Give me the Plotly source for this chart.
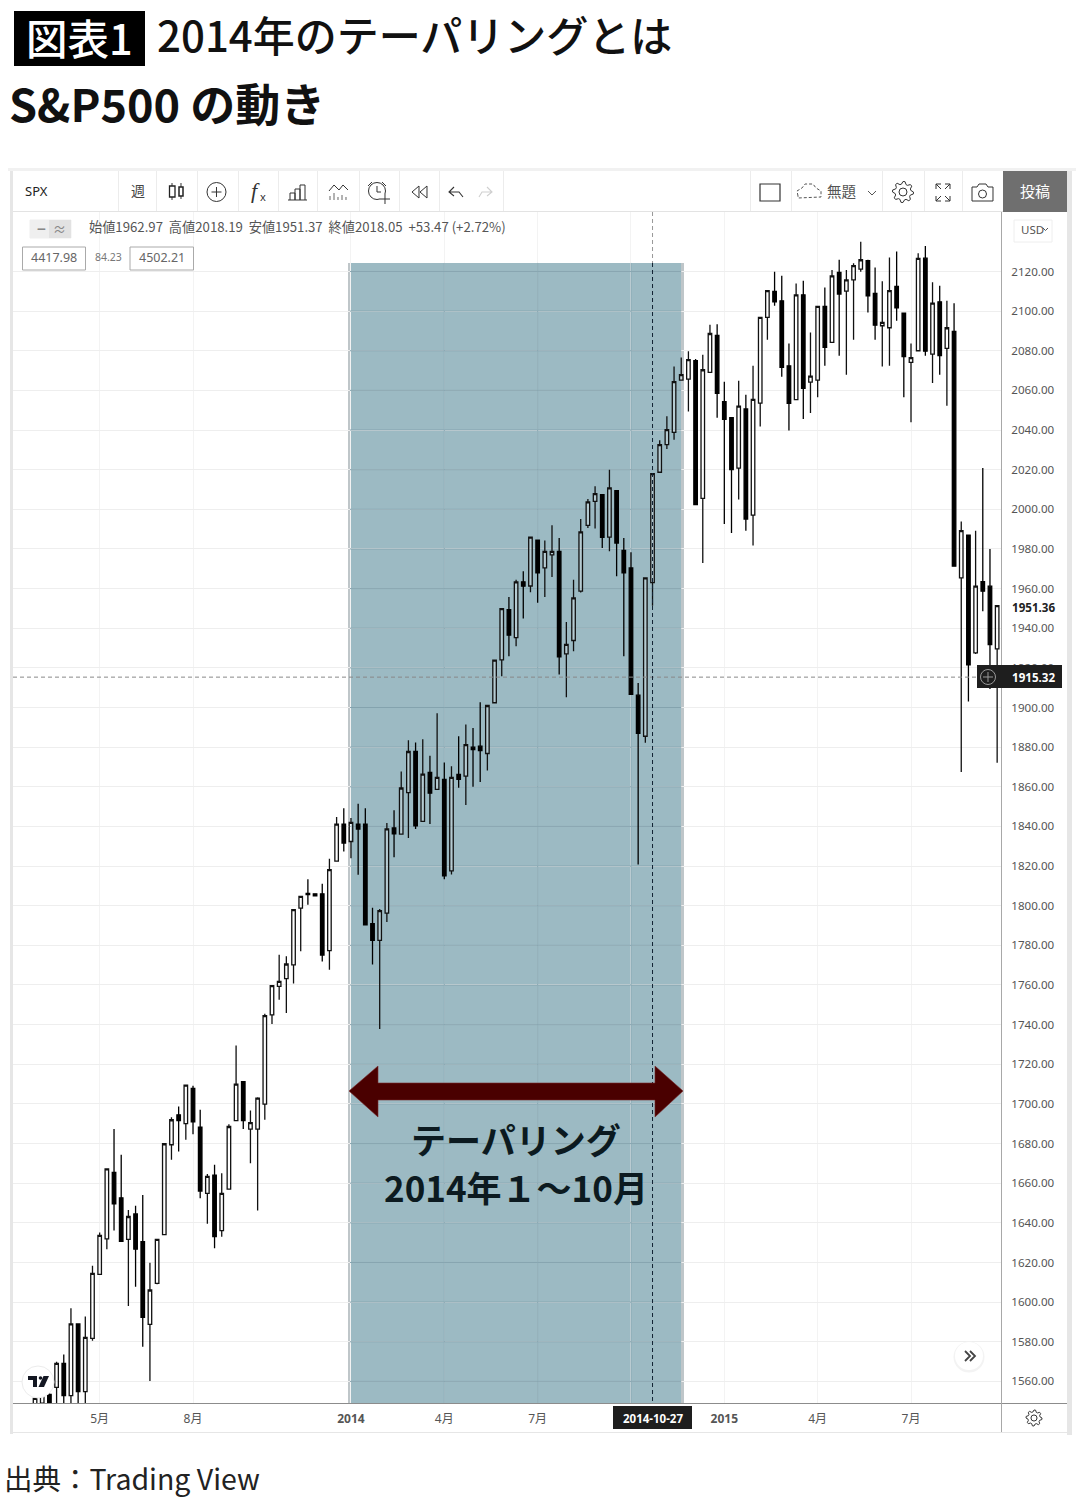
import re
import math
import pandas as pd
import plotly.graph_objects as go

W, H = 1080, 1500
CJK = "Noto Sans CJK JP"
LATIN = "Noto Sans, Noto Sans CJK JP"

# weekly SPX candles
opens = [
    1546, 1549, 1553.5, 1557, 1569.1, 1552.8, 1589, 1554.8, 1581.7, 1614,
    1631.9, 1665.4, 1652.6, 1631.7, 1644.5, 1630.5, 1588.8, 1609.5, 1634.1, 1679.4,
    1694.5, 1690.1, 1707.8, 1688.3, 1654.9, 1664, 1636.1, 1657, 1691.6, 1711.2,
    1687.3, 1687.3, 1699.9, 1744.9, 1759.3, 1763.2, 1770.1, 1798.8, 1806.2, 1806,
    1806, 1777.3, 1822.5, 1841.2, 1832.4, 1841.2, 1841.2, 1790.9, 1782.5, 1796.3,
    1839.2, 1836.1, 1857.1, 1877.8, 1842.5, 1867.2, 1858.7, 1863.7, 1817.6, 1866.2,
    1865.4, 1880, 1880.5, 1876.8, 1902.4, 1924, 1949.4, 1935.3, 1963.4, 1961.3,
    1984.5, 1970.4, 1977, 1978.8, 1927.1, 1933.8, 1958.7, 1991.9, 2004, 2007.4,
    1986, 2009.4, 1979.3, 1970.4, 1906.2, 1885.5, 1962.97, 2018.7, 2032.6, 2038.8,
    2065.2, 2065.7, 2075, 2005.5, 2069.1, 2087.7, 2054.3, 2046.2, 2020.8, 2050.6,
    1997.1, 2053.6, 2096.8, 2109.9, 2105.2, 2072.4, 2055.3, 2108.2, 2064.2, 2065.2,
    2102.4, 2084.2, 2119.5, 2110.1, 2115.8, 2121.2, 2125.4, 2108.9, 2092.6, 2091.6,
    2112.4, 2099, 2074.1, 2080, 2126.7, 2078.3, 2104.7, 2081.2, 2089.7, 1965.4,
    1987, 1927.6, 1963.5, 1961.2, 1929.6,
]
highs = [
    1552, 1556, 1554, 1569.9, 1573.6, 1596.9, 1589, 1592.7, 1618.4, 1635.1,
    1667.5, 1687.3, 1674.3, 1646.5, 1648.6, 1654.1, 1619.9, 1632, 1680, 1693.3,
    1698.7, 1709.5, 1709.2, 1697, 1664.7, 1669.3, 1665, 1689.8, 1729.5, 1711.2,
    1696.7, 1703.4, 1745.5, 1759.9, 1775.3, 1774.5, 1798.2, 1804.9, 1813.4, 1806.2,
    1811.1, 1823.7, 1844.7, 1849.2, 1844.2, 1851.4, 1849.2, 1799, 1798.3, 1841.7,
    1848.1, 1867.7, 1883.5, 1882.4, 1884, 1875.6, 1897.1, 1872.3, 1870.4, 1885.5,
    1891.4, 1889.7, 1902.7, 1901, 1924.2, 1950, 1955.8, 1964.5, 1968.7, 1986,
    1984.6, 1984.2, 1991.9, 1985.5, 1943.2, 1964.5, 1995.1, 2005.2, 2011.6, 2007.6,
    2020, 2009.6, 1985.5, 1978.3, 1912.4, 1965.5, 2018.19, 2034.8, 2046.9, 2072.1,
    2076.6, 2079.7, 2075.8, 2078, 2093.1, 2093.4, 2064.4, 2046.4, 2064.9, 2057.8,
    2072.4, 2097, 2110.5, 2119.8, 2117.8, 2083.7, 2113.9, 2115.3, 2089.2, 2102.6,
    2111.9, 2120.8, 2125.9, 2120.8, 2124.2, 2135, 2125.9, 2122, 2115, 2127.1,
    2130.1, 2099.2, 2083.7, 2129.2, 2132.9, 2114.5, 2112.8, 2105.2, 2104, 1993.8,
    1987.2, 1989.2, 2020.8, 1980, 1951.5,
]
lows = [
    1540, 1542, 1540, 1545, 1545, 1543, 1545, 1545, 1580.5, 1614,
    1626.7, 1636.1, 1630.7, 1598, 1607.8, 1577.5, 1560.2, 1609, 1634, 1671.8,
    1676, 1681.9, 1684.7, 1652.4, 1639.5, 1627.2, 1633, 1657, 1691.6, 1687.3,
    1670.1, 1646.2, 1692, 1740.3, 1752.6, 1745.9, 1760.7, 1777, 1800.5, 1804.8,
    1771.9, 1767.7, 1822.4, 1827.4, 1824, 1815.6, 1790.4, 1770.3, 1737.8, 1791.8,
    1824.4, 1836, 1834.1, 1838.7, 1842.4, 1841.2, 1858.6, 1813.4, 1815.8, 1859.5,
    1850.8, 1860, 1862.4, 1868.2, 1902, 1915.8, 1925.9, 1930.9, 1944.9, 1958.2,
    1952.8, 1955.8, 1965.9, 1916.6, 1905.2, 1928.4, 1958, 1990.6, 1990.3, 1980.5,
    1978.8, 1966.2, 1925.9, 1906.4, 1820.8, 1882.2, 1951.37, 2018.6, 2030.4, 2035.1,
    2064.9, 2049.4, 2002, 1972.9, 2069, 2046.2, 1992.6, 1988.1, 2004.9, 1989.2,
    1981.7, 2041.8, 2085.5, 2102.7, 2066.9, 2039.7, 2055, 2045.5, 2048.6, 2056.5,
    2072.4, 2084, 2077.5, 2067.9, 2085.5, 2119.8, 2099.3, 2085.5, 2072.1, 2072.4,
    2095.1, 2056.5, 2043.9, 2080, 2077.5, 2063.7, 2067.9, 2052.3, 1971, 1867.4,
    1903, 1927, 1948.6, 1909.4, 1872.1,
]
closes = [
    1551.4, 1553.5, 1545, 1569.1, 1552.8, 1589, 1554.8, 1582.2, 1614.5, 1633.7,
    1667.2, 1649.6, 1630.7, 1643.2, 1626.7, 1592.3, 1606.1, 1631.7, 1679.9, 1692,
    1691.6, 1709.5, 1691, 1656, 1663.4, 1633.1, 1654.9, 1688.6, 1710, 1691.6,
    1690.6, 1702.9, 1744.5, 1759.7, 1761.8, 1770.6, 1798, 1804.7, 1805.6, 1805,
    1775.1, 1818.2, 1841.2, 1831.6, 1842, 1838.7, 1790.4, 1782.5, 1797.5, 1838.8,
    1836.3, 1859.4, 1877.8, 1840.3, 1866.4, 1856.8, 1864.7, 1815.1, 1864.7, 1863.7,
    1881.3, 1878.8, 1878.3, 1901, 1923.9, 1949.9, 1936.5, 1963.4, 1961.2, 1986,
    1967.9, 1978.8, 1978.8, 1925.5, 1931.9, 1955.3, 1988.6, 2003.7, 2007.9, 1985.9,
    2010.8, 1983, 1967.9, 1906.6, 1886.9, 1965.4, 2018.05, 2032.6, 2040.2, 2064.4,
    2067.9, 2075.5, 2002.4, 2070.4, 2088.7, 2058.5, 2045.4, 2020, 2052.1, 1995.1,
    2055.5, 2096.8, 2110.3, 2104.7, 2071.6, 2053.4, 2108.2, 2061, 2067.2, 2102.4,
    2081.7, 2117.8, 2108.6, 2115.8, 2122.9, 2125.9, 2107.7, 2092.9, 2094.3, 2110.3,
    2101.7, 2077, 2076.5, 2126.6, 2079.8, 2104, 2077.5, 2091.6, 1971.3, 1989.2,
    1921.5, 1961.2, 1958.7, 1931.8, 1951.36,
]
week_dates = pd.date_range("2013-03-04", periods=len(opens), freq="7D")

x_ticks = ["2013-05-06", "2013-08-05", "2014-01-06", "2014-04-07", "2014-07-07",
           "2014-10-06", "2015-01-05", "2015-04-06", "2015-07-06"]
x_labels = ["5月", "8月", "<b>2014</b>", "4月", "7月", "", "<b>2015</b>", "4月", "7月"]
y_ticks = [1560, 1580, 1600, 1620, 1640, 1660, 1680, 1700, 1720, 1740, 1760, 1780, 1800, 1820, 1840,
           1860, 1880, 1900, 1920, 1940, 1960, 1980, 2000, 2020, 2040, 2060, 2080, 2100, 2120]
band_x_ticks = ["2014-04-07", "2014-07-07", "2014-10-06"]
band_start = "2014-01-05"
band_end = "2014-11-24"
band_top = 2124.3
y_bottom = 1549.1
y_top = 2150
cross_date = "2014-10-27"
cross_price = 1915.32
last_price = 1951.36


def px(x):
    return x / W


def py(y):
    return 1 - y / H


def conv(d):
    # pixel path -> paper path
    out = []
    is_x = True
    for tok in re.findall(r"[MLZ]|-?[\d.]+", d):
        if tok in "MLZ":
            out.append(tok)
            is_x = True
        elif is_x:
            out.append(f"{px(float(tok)):.5f}")
            is_x = False
        else:
            out.append(f"{py(float(tok)):.5f}")
            is_x = True
    return " ".join(out)


shapes = []
notes = []


def rect(x0, y0, x1, y1, fill=None, line=None, lw=1, layer="above"):
    shapes.append(dict(type="rect", xref="paper", yref="paper", x0=px(x0), x1=px(x1), y0=py(y0), y1=py(y1),
                       fillcolor=fill or "rgba(0,0,0,0)", line=dict(color=line or "rgba(0,0,0,0)", width=lw if line else 0),
                       layer=layer))


def circle(cx, cy, r, fill=None, line="#333", lw=1):
    shapes.append(dict(type="circle", xref="paper", yref="paper", x0=px(cx - r), x1=px(cx + r), y0=py(cy - r), y1=py(cy + r),
                       fillcolor=fill or "rgba(0,0,0,0)", line=dict(color=line or "rgba(0,0,0,0)", width=lw if line else 0),
                       layer="above"))


def path(d, line="#333", lw=1, fill=None, dash="solid", layer="above"):
    shapes.append(dict(type="path", xref="paper", yref="paper", path=conv(d),
                       fillcolor=fill or "rgba(0,0,0,0)", line=dict(color=line or "rgba(0,0,0,0)", width=lw if line else 0, dash=dash),
                       layer=layer))


def note(text, x, y, size, color="#555", anchor="left", weight=400, family=CJK):
    notes.append(dict(text=text, x=px(x), y=py(y), xref="paper", yref="paper", showarrow=False, xanchor=anchor,
                      yanchor="middle", borderpad=0, font=dict(size=size, color=color, family=family, weight=weight)))


def gear(cx, cy, r):
    pts = []
    for i in range(32):
        rr = r if i % 4 in (0, 1) else r * 0.76
        a = 2 * math.pi * i / 32
        pts.append(f"{cx + rr * math.cos(a):.2f} {cy + rr * math.sin(a):.2f}")
    path("M " + " L ".join(pts) + " Z", line="#333", lw=1)
    circle(cx, cy, r * 0.38)


# frame of the screenshot
rect(8, 168, 1076, 171, fill="#f1f1f1")
rect(10, 171, 13, 1434, fill="#e6e6e6")
rect(1067, 171, 1072, 1435, fill="#e6e6e6")
rect(13, 211, 1067, 212, fill="#e3e3e3")
rect(13, 1432, 1067, 1433, fill="#e6e6e6")
rect(13, 1403, 1067, 1404, fill="#8c8c8c")
rect(1001, 212, 1002, 1432, fill="#a8a8a8")
for sep in [118, 156, 197, 238, 278, 317, 359, 399, 439, 503, 750, 791, 882, 924, 962]:
    rect(sep, 171, sep + 1, 211, fill="#ececec")

# teal band for the tapering period, sits under the gridlines
rect(349, 263, 683, 1403, fill="#9cbac3", layer="below")
rect(348, 263, 351, 1403, fill="#bfc6c9", layer="below")
rect(681, 263, 684, 1403, fill="#bfc6c9", layer="below")

# gridlines come out darker where the band covers them
for tick in y_ticks:
    shapes.append(dict(type="line", xref="x", yref="y", x0=band_start, x1=band_end, y0=tick, y1=tick,
                       line=dict(color="#84a3ae", width=1), layer="between"))
for tick in band_x_ticks:
    shapes.append(dict(type="line", xref="x", yref="y", x0=tick, x1=tick, y0=y_bottom, y1=band_top,
                       line=dict(color="#88a8b3", width=1), layer="between"))

# crosshair
shapes.append(dict(type="line", xref="paper", yref="y", x0=px(13), x1=px(978), y0=cross_price, y1=cross_price,
                   line=dict(color="#888", width=1, dash="4px,3px"), layer="above"))
shapes.append(dict(type="line", xref="x", yref="paper", x0=cross_date, x1=cross_date, y0=py(212), y1=py(263),
                   line=dict(color="#999", width=1, dash="4px,3px"), layer="above"))
shapes.append(dict(type="line", xref="x", yref="paper", x0=cross_date, x1=cross_date, y0=py(263), y1=py(1403),
                   line=dict(color="#123", width=1, dash="4px,3px"), layer="above"))

# toolbar icons, left
note("SPX", 24, 191, 13, "#222", family=LATIN)
note("週", 130, 190, 14, "#444")
path("M 172 183 L 172 186 M 172 197 L 172 200 M 181 183 L 181 187 M 181 196 L 181 199")
rect(169.5, 186, 175, 197, line="#222", lw=1.3)
rect(179, 187, 183, 196, line="#222", lw=1.5)
circle(216.5, 192, 9.5)
path("M 216.5 187 L 216.5 197 M 211.5 192 L 221.5 192")
note("<i>f</i>", 250, 190, 22, "#333", family="Liberation Serif")
note("x", 259, 197, 11, "#333", family=LATIN)
path("M 288 200 L 307 200 M 290 200 L 290 193 L 295 193 L 295 200 M 295 200 L 295 189 L 300 189 L 300 200 M 300 200 L 300 185 L 305 185 L 305 200")
path("M 329 191 L 334 185 L 339 190 L 343 185 L 348 190", lw=1)
path("M 330 200 L 330 196 M 334 200 L 334 193 M 338 200 L 338 197 M 342 200 L 342 195 M 346 200 L 346 197", line="#666")
circle(377, 191, 8.5)
path("M 368 186 L 372 182 M 382 182 L 386 186 M 377 186 L 377 192 L 381 192")
rect(380, 194, 390, 204, fill="#ffffff")
path("M 385 194 L 385 204 M 380 199 L 390 199", line="#333")
path("M 419 186 L 412 192 L 419 198 Z M 427 186 L 420 192 L 427 198 Z", lw=1)
path("M 454 187 L 449 192 L 454 196 M 449 192 L 459 192 L 463 197", lw=1.1)
path("M 487 187 L 492 192 L 487 196 M 492 192 L 482 192 L 479 197", line="#cfcfcf", lw=1.1)

# toolbar icons, right
rect(760, 184, 780, 201, line="#333", lw=1.2)
path("M 798 196 L 797 191 L 802 188 L 805 184 L 813 184 L 816 188 L 821 191 L 821 197 L 798 198 Z", line="#555", lw=1, dash="3px,2px")
note("無題", 826, 190, 14.5, "#555")
path("M 868 191 L 872 195 L 876 191", line="#555")
gear(903, 192, 10.5)
path("M 936 184 L 941 184 M 936 184 L 936 189 M 936 184 L 941 189 M 950 184 L 945 184 M 950 184 L 950 189 M 950 184 L 945 189")
path("M 936 201 L 941 201 M 936 201 L 936 196 M 936 201 L 941 196 M 950 201 L 945 201 M 950 201 L 950 196 M 950 201 L 945 196")
path("M 972 187 L 977 187 L 979 184 L 986 184 L 988 187 L 993 187 L 993 201 L 972 201 Z", lw=1)
circle(982.5, 194, 4)
rect(1003, 171, 1067, 212, fill="#6f6f6f")
note("投稿", 1035, 190, 15, "#ffffff", anchor="center")

# ohlc legend row
rect(30, 220, 71, 238, fill="#efefef", line="#efefef")
rect(49, 220, 71, 238, fill="#e2e2e2")
note("−", 41, 228, 15, "#888", anchor="center", weight=700)
note("≈", 59, 228, 13, "#888", anchor="center")
note("始値1962.97  高値2018.19  安値1951.37  終値2018.05  +53.47 (+2.72%)", 88, 227, 13.2, "#555")
rect(22.5, 247, 85.5, 270, fill="#ffffff", line="#aaa")
rect(130, 247, 193.5, 270, fill="#ffffff", line="#aaa")
note("4417.98", 54, 258, 12.5, "#666", anchor="center", family=LATIN)
note("84.23", 108, 257, 10.5, "#777", anchor="center", family=LATIN)
note("4502.21", 162, 258, 12.5, "#666", anchor="center", family=LATIN)

# price scale extras
rect(1014, 220, 1052, 242, fill="#ffffff", line="#eeeeee")
note("USD", 1020, 229, 11.5, "#555", family=LATIN)
path("M 1043 228 L 1045.5 230.5 L 1048 228", line="#555")
note(f"<b>{last_price:.2f}</b>", 1011, 607, 11.6, "#222", family=LATIN)
rect(977, 665, 1062, 688, fill="#1e1e1e")
circle(988, 677, 7.5, line="#999")
path("M 988 672 L 988 682 M 983 677 L 993 677", line="#999")
note(f"<b>{cross_price:.2f}</b>", 1011, 677, 11.6, "#ffffff", family=LATIN)

# time scale extras
rect(613, 1406, 692, 1429, fill="#1e1e1e")
note("<b>2014-10-27</b>", 652.5, 1418, 11.5, "#ffffff", anchor="center", family=LATIN)
gear(1034, 1418, 8)

# round buttons
circle(969, 1357, 15.5, fill="#f3f3f3", line=None)
circle(969, 1356, 14, fill="#ffffff", line=None)
path("M 965 1351 L 970 1356 L 965 1361 M 970 1351 L 975 1356 L 970 1361", line="#444", lw=1.8)
circle(38, 1382, 16, fill="#ffffff", line="#ececec")
path("M 28 1376 L 37 1376 L 37 1387 L 33 1387 L 33 1380 L 28 1380 Z", line=None, fill="#131722")
circle(40.5, 1378, 1.8, fill="#131722", line=None)
path("M 43.5 1376 L 49 1376 L 44 1387 L 38.5 1387 Z", line=None, fill="#131722")

# dark red double arrow over the band
path("M 349 1091 L 378 1066 L 378 1083 L 655 1083 L 655 1066 L 683 1091 L 655 1117 L 655 1100 L 378 1100 L 378 1117 Z",
     line="#7a2a2a", lw=0.6, fill="#4a0000")
note("テーパリング", 516, 1138.5, 35, "#0c1a20", anchor="center", weight=700)
note("2014年１～10月", 515.5, 1186.5, 35, "#0c1a20", anchor="center", weight=700)

# headline and source
rect(14, 11, 145, 66, fill="#000000")
note("図表1", 79.5, 37, 41.5, "#ffffff", anchor="center", weight=500)
note("2014年のテーパリングとは", 156, 33, 42, "#111111", weight=500)
note("S&P500 の動き", 8, 103, 45, "#111111", weight=700)
note("出典：Trading View", 3, 1477, 28.5, "#222222")

fig = go.Figure(
    go.Candlestick(
        x=week_dates,
        open=opens,
        high=highs,
        low=lows,
        close=closes,
        increasing=dict(line=dict(color="#111111", width=1.3), fillcolor="rgba(255,255,255,0.25)"),
        decreasing=dict(line=dict(color="#000000", width=1.3), fillcolor="#000000"),
        whiskerwidth=0,
        showlegend=False,
    )
)

fig.update_layout(
    width=W,
    height=H,
    margin=dict(l=0, r=0, t=0, b=0),
    paper_bgcolor="#ffffff",
    plot_bgcolor="rgba(0,0,0,0)",
    showlegend=False,
    boxgap=0.3,
    shapes=shapes,
    annotations=notes,
    font=dict(family=LATIN, color="#555"),
)
fig.update_xaxes(
    domain=[px(13), px(1001)],
    range=["2013-02-10 12:00", "2015-10-01 18:00"],
    rangeslider_visible=False,
    tickmode="array",
    tickvals=x_ticks,
    ticktext=x_labels,
    tickfont=dict(size=12, color="#555", family=LATIN),
    ticks="outside",
    ticklen=5,
    tickcolor="rgba(0,0,0,0)",
    gridcolor="#f3f3f3",
    showline=False,
    zeroline=False,
)
fig.update_yaxes(
    domain=[py(1403), py(212)],
    range=[y_bottom, y_top],
    side="right",
    tickmode="array",
    tickvals=y_ticks,
    tickformat=".2f",
    tickfont=dict(size=11.6, color="#555", family=LATIN),
    ticks="outside",
    ticklen=7,
    tickcolor="rgba(0,0,0,0)",
    gridcolor="#eeeeee",
    showline=False,
    zeroline=False,
)

fig.write_html("out.html", config={"displayModeBar": False}, post_script="document.body.style.margin='0';document.documentElement.style.overflow='hidden';")
